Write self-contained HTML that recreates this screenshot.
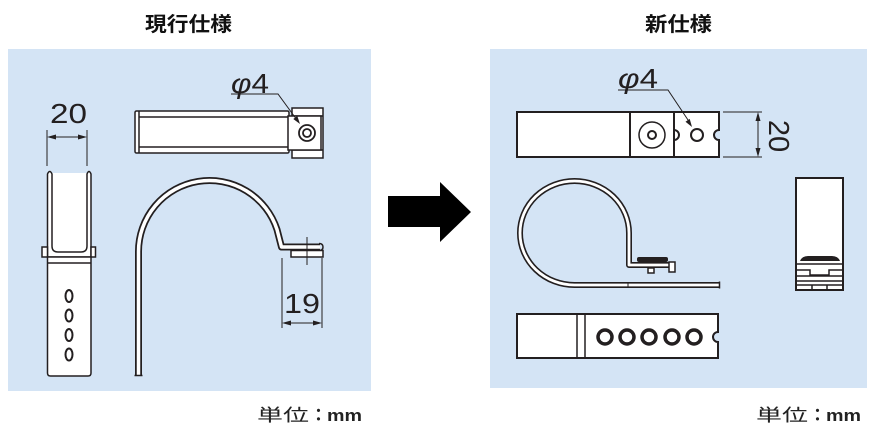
<!DOCTYPE html>
<html><head><meta charset="utf-8"><style>
html,body{margin:0;padding:0;background:#fff;}
svg{display:block;}
</style></head><body>
<svg width="874" height="427" viewBox="0 0 874 427" xmlns="http://www.w3.org/2000/svg">
<!-- headers -->
<text x="145" y="31" font-family="'Liberation Sans','Noto Sans CJK JP',sans-serif" font-size="20" font-weight="bold" fill="#111" textLength="87" lengthAdjust="spacingAndGlyphs">現行仕様</text>
<text x="645" y="31" font-family="'Liberation Sans','Noto Sans CJK JP',sans-serif" font-size="20" font-weight="bold" fill="#111" textLength="67" lengthAdjust="spacingAndGlyphs">新仕様</text>

<!-- panels -->
<rect x="8" y="49" width="363" height="342" fill="#d4e4f5"/>
<rect x="490" y="49" width="377" height="339" fill="#d4e4f5"/>

<!-- big arrow -->
<polygon points="388,196 440,196 440,182 471,212 440,242 440,227 388,227" fill="#000"/>

<g stroke="#231f20" fill="none" stroke-width="1.5">
<!-- ===== LEFT PANEL ===== -->
<!-- dim 20 -->
<line x1="47" y1="130" x2="47" y2="166" stroke-width="1"/>
<line x1="87" y1="130" x2="87" y2="166" stroke-width="1"/>
<line x1="50" y1="137" x2="84" y2="137" stroke-width="1"/>
<polygon points="47,137 56,134.5 56,139.5" fill="#231f20" stroke="none"/>
<polygon points="87,137 78,134.5 78,139.5" fill="#231f20" stroke="none"/>

<!-- side view U -->
<rect x="52" y="173" width="35" height="80" fill="#fff" stroke="none"/>
<path d="M47.5 257 V174 Q49.75 169 52 174 V246 Q52 252 58 252 H81 Q87 252 87 246 V174 Q89 169 91 174 V257 Z" fill="#fff"/>
<rect x="42" y="247" width="5.5" height="10" fill="#fff"/>
<rect x="91" y="247" width="4.5" height="10" fill="#fff"/>
<path d="M47.5 257 V373 Q47.5 376 50.5 376 H88 Q91 376 91 373 V257 Z" fill="#fff"/>
<line x1="47.5" y1="263" x2="91" y2="263"/>
<g stroke-width="2">
<ellipse cx="69" cy="296" rx="3.5" ry="6"/>
<ellipse cx="69" cy="315.5" rx="3.5" ry="6"/>
<ellipse cx="69" cy="335" rx="3.5" ry="6"/>
<ellipse cx="69" cy="354.5" rx="3.5" ry="6"/>
</g>

<!-- top view strip -->
<rect x="135" y="111" width="154" height="42" fill="#fff" rx="1.5"/>
<line x1="139" y1="111" x2="139" y2="153"/>
<line x1="139" y1="117" x2="289" y2="117"/>
<line x1="139" y1="147" x2="289" y2="147"/>
<rect x="292" y="108" width="31" height="50" fill="#fff"/>
<line x1="292" y1="116" x2="323" y2="116"/>
<line x1="292" y1="150" x2="323" y2="150"/>
<rect x="288" y="116" width="33" height="34" fill="#fff"/>
<circle cx="307" cy="133" r="8" stroke-width="1.8" fill="#fff"/>
<circle cx="307" cy="133" r="4" stroke-width="1.8"/>
<!-- leader -->
<polyline points="231,94 278,94 297,120" stroke-width="1"/>
<polygon points="300,124 293.3,119 297.3,116" fill="#231f20" stroke="none"/>

<!-- J clamp -->
<path d="M138.5 375 V252 A71 71 0 0 1 277 229.5 L281.5 247 H320" stroke-width="7" stroke-linejoin="round"/>
<path d="M138.5 376 V252 A71 71 0 0 1 277 229.5 L281.5 247 H320" stroke="#fff" stroke-width="3.5" stroke-linejoin="round"/>
<line x1="134.5" y1="375.5" x2="142.5" y2="375.5"/>
<path d="M319 243.5 Q323 243.5 323 247 Q323 250.5 319 250.5"/>
<rect x="291" y="250.5" width="32" height="6.5" fill="#fff"/>
<line x1="307" y1="237" x2="307" y2="265" stroke-width="1"/>

<!-- dim 19 -->
<line x1="282" y1="258" x2="282" y2="328" stroke-width="1"/>
<line x1="322" y1="258" x2="322" y2="328" stroke-width="1"/>
<line x1="285" y1="323" x2="319" y2="323" stroke-width="1"/>
<polygon points="282,323 291,320.5 291,325.5" fill="#231f20" stroke="none"/>
<polygon points="322,323 313,320.5 313,325.5" fill="#231f20" stroke="none"/>

<!-- ===== RIGHT PANEL ===== -->
<!-- top strip -->
<path d="M517 112 H719 V130 A5 5 0 0 0 719 140 V157 H517 Z" fill="#fff" stroke-width="2"/>
<line x1="630" y1="112" x2="630" y2="157" stroke-width="2"/>
<line x1="674" y1="112" x2="674" y2="157" stroke-width="2"/>
<path d="M674 130 A5 5 0 0 1 674 140" stroke-width="2"/>
<circle cx="652" cy="135" r="13" stroke-width="1.5"/>
<circle cx="652" cy="135" r="4" stroke-width="2"/>
<circle cx="697" cy="135" r="6" stroke-width="2"/>
<!-- leader -->
<polyline points="618,90 668,90 689.7,122.5" stroke-width="1"/>
<polygon points="692,127 685.5,121.7 689.7,118.9" fill="#231f20" stroke="none"/>
<!-- dim 20 vertical -->
<line x1="723" y1="112" x2="762" y2="112" stroke-width="1"/>
<line x1="723" y1="157" x2="762" y2="157" stroke-width="1"/>
<line x1="758" y1="115" x2="758" y2="154" stroke-width="1"/>
<polygon points="758,112 755.5,121 760.5,121" fill="#231f20" stroke="none"/>
<polygon points="758,157 755.5,148 760.5,148" fill="#231f20" stroke="none"/>

<!-- P clamp -->
<path d="M719 285 H574.5 A54.5 52 0 1 1 629 233 V265 H673" stroke-width="6" stroke-linejoin="round"/>
<path d="M720 285 H574.5 A54.5 52 0 1 1 629 233 V265 H674" stroke="#fff" stroke-width="2.8" stroke-linejoin="round"/>
<line x1="719.5" y1="281.5" x2="719.5" y2="288.5"/>
<line x1="628" y1="282" x2="628" y2="288" stroke-width="1"/>
<rect x="637" y="257" width="31" height="5" rx="2" fill="#231f20" stroke="none"/>
<rect x="669" y="262" width="6" height="10" fill="#fff"/>
<rect x="648" y="268" width="6" height="5" fill="#fff"/>

<!-- bottom strip -->
<path d="M517 314 H718 V332 A5 5 0 0 0 718 342 V358 H517 Z" fill="#fff" stroke-width="2"/>
<line x1="577" y1="314" x2="577" y2="358" stroke-width="1.5"/>
<line x1="585" y1="314" x2="585" y2="358" stroke-width="1.5"/>
<g stroke-width="3.5">
<circle cx="605" cy="337" r="7"/>
<circle cx="627" cy="337" r="7"/>
<circle cx="649" cy="337" r="7"/>
<circle cx="672" cy="337" r="7"/>
<circle cx="694" cy="337" r="7"/>
</g>

<!-- front view -->
<rect x="796" y="178" width="47" height="112" fill="#fff" stroke-width="2"/>
<path d="M800 261 Q802 256 808 256 H832 Q838 256 840 261 Z" fill="#231f20" stroke="none"/>
<line x1="796" y1="264" x2="843" y2="264"/>
<path d="M796 270 H810 V275 H829 V270 H843"/>
<line x1="796" y1="276" x2="843" y2="276"/>
<line x1="796" y1="281" x2="843" y2="281"/>
<line x1="796" y1="285" x2="843" y2="285"/>
<line x1="812" y1="285" x2="812" y2="290"/>
<line x1="827" y1="285" x2="827" y2="290"/>
</g>

<!-- dimension texts -->
<g font-family="'Liberation Sans',sans-serif" font-size="28" fill="#231f20">
<text x="50" y="123" textLength="37" lengthAdjust="spacingAndGlyphs">20</text>
<text x="284" y="313" textLength="36" lengthAdjust="spacingAndGlyphs">19</text>
<text x="231" y="93" textLength="38" lengthAdjust="spacingAndGlyphs"><tspan font-style="italic">φ</tspan>4</text>
<text x="618" y="88" textLength="40" lengthAdjust="spacingAndGlyphs"><tspan font-style="italic">φ</tspan>4</text>
<text transform="translate(769,136) rotate(90)" text-anchor="middle" x="0" y="0" font-size="29">20</text>
</g>

<!-- unit labels -->
<g font-family="'Liberation Sans','Noto Sans CJK JP',sans-serif" fill="#222">
<text x="257" y="421" font-size="17" textLength="52" lengthAdjust="spacingAndGlyphs">単位</text>
<text x="310" y="421" font-size="17" font-weight="bold">：</text>
<text x="327" y="421" font-size="17" font-weight="bold" textLength="35" lengthAdjust="spacingAndGlyphs">mm</text>
<text x="756" y="421" font-size="17" textLength="52" lengthAdjust="spacingAndGlyphs">単位</text>
<text x="809" y="421" font-size="17" font-weight="bold">：</text>
<text x="826" y="421" font-size="17" font-weight="bold" textLength="35" lengthAdjust="spacingAndGlyphs">mm</text>
</g>
</svg>
</body></html>
